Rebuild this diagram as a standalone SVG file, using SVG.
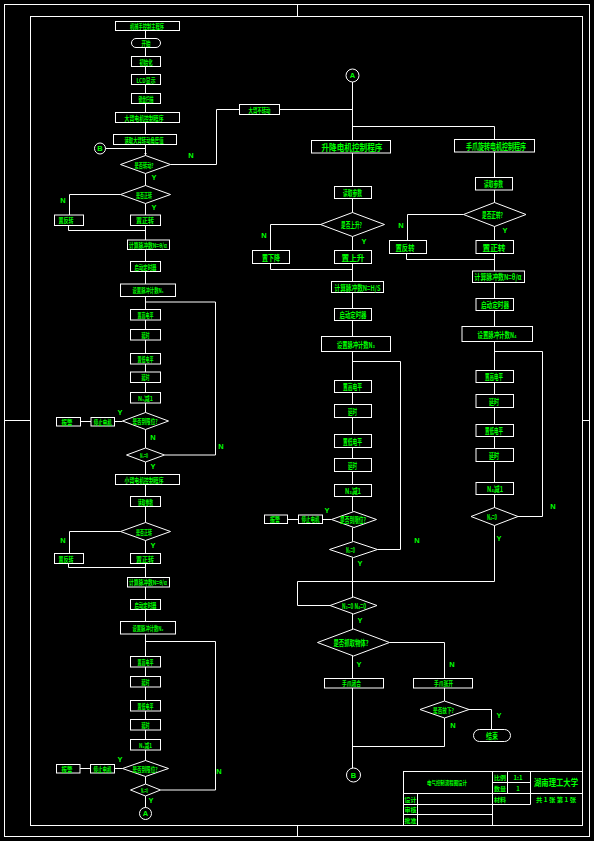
<svg xmlns="http://www.w3.org/2000/svg" width="594" height="841" viewBox="0 0 594 841">
<style>
.bg{fill:#000}
.f{fill:none;stroke:#fff;stroke-width:1}
.b{fill:none;stroke:#fff;stroke-width:1}
.c{fill:none;stroke:#fff;stroke-width:1}
text{font-family:"Noto Sans CJK SC","Liberation Sans",sans-serif;fill:#00ff00;text-anchor:middle;dominant-baseline:central;font-weight:bold}
.t{font-size:6.5px}
.m{font-size:8px}
.h{font-size:9.5px}
.yn{font-family:"Liberation Sans",sans-serif;font-size:7.5px;font-weight:bold}
.tb{font-size:6px}
</style>
<defs>
<marker id="a" markerWidth="3" markerHeight="3" refX="3" refY="1.5" orient="auto" markerUnits="userSpaceOnUse"><path d="M0,0L3,1.5L0,3z" fill="#fff"/></marker>
</defs>
<rect class="bg" x="0" y="0" width="594" height="841"/>
<g id="frame">
<rect class="f" x="4.5" y="4.5" width="585" height="832"/>
<rect class="f" x="30.5" y="16.5" width="552" height="809"/>
<path class="f" d="M4.5,420.5H30.5M582.5,420.5H589.5M297.5,4.5V16.5M297.5,825.5V836.5"/>
</g>
<g id="connectors">
<path class="c" d="M145.5,30.5V38M145.5,47V56.5M145.5,66.5V74.5M145.5,84.5V93.5M145.5,103.5V112.5M145.5,122.5V134.5M145.5,144.5V155.5" marker-end="url(#a)"/>
<path class="c" d="M105.5,148.5H145.5"/>
<path class="c" d="M170.5,164.5H216.5V109.5H239.5M279.5,109.5H352.5"/>
<path class="c" d="M145.5,173.5V185.5"/>
<path class="c" d="M120.5,194.5H69.5V215"/>
<path class="c" d="M145.5,203.5V215"/>
<path class="c" d="M68.5,225.5V230.5H145.5"/>
<path class="c" d="M145.5,225.5V240M145.5,249.5V261.5M145.5,271.5V284M145.5,296.5V309.5M145.5,320V329.5M145.5,340V353.5M145.5,364V372M145.5,382.5V392.5M145.5,403V412.5M145.5,429.5V448"/>
<path class="c" d="M145.5,302H215.5V455H164.5"/>
<path class="c" d="M122.5,421.5H114.5M91,421.5H80.5"/>
<path class="c" d="M145.5,462V474.5M145.5,484.5V496.5M145.5,506.5V522.5M145.5,540.5V553.5"/>
<path class="c" d="M120.5,531.5H69.5V553.5"/>
<path class="c" d="M68.5,563.5V567.5H145.5"/>
<path class="c" d="M145.5,563.5V577.5M145.5,587V599.5M145.5,609.5V621.5M145.5,634V656.5M145.5,667V676.5M145.5,687V700.5M145.5,711V719.5M145.5,730V739.5M145.5,750V760.5M145.5,776.5V784M145.5,796V807.5"/>
<path class="c" d="M145.5,641.5H215.5V790H160.5"/>
<path class="c" d="M122.5,768.5H114.5M90,768.5H80"/>
<path class="c" d="M352.5,82V140.5M352.5,153V186M352.5,198.5V212.5M352.5,236.5V250.5M352.5,263.5V281.5M352.5,292.5V308.5M352.5,320.5V336.5M352.5,351.5V380.5M352.5,392.5V404.5M352.5,417.5V434.5M352.5,447.5V458.5M352.5,471.5V484.5M352.5,496.5V511.5M352.5,527.5V541.5M352.5,557.5V597M352.5,614V629M352.5,656V678.5M352.5,688V768"/>
<path class="c" d="M352.5,126.5H494.5V139.5"/>
<path class="c" d="M321,224.5H270.5V250.5"/>
<path class="c" d="M270.5,263.5V269.5H352.5"/>
<path class="c" d="M352.5,361.5H400.5V549.5H377.5"/>
<path class="c" d="M331.5,519.5H322.5M298.5,519.5H287.5"/>
<path class="c" d="M330,605.5H297.5V581.5H352.5"/>
<path class="c" d="M494.5,525.5V581.5H352.5"/>
<path class="c" d="M389.5,642.5H444.5V678.5"/>
<path class="c" d="M444.5,688V701M469,709.5H491.5V729.5"/>
<path class="c" d="M444.5,718V746.5H352.5"/>
<path class="c" d="M494.5,152V177.5M494.5,190V202.5M494.5,226.5V240.5M494.5,253.5V271M494.5,282.5V298.5M494.5,310.5V326.5M494.5,341.5V370.5M494.5,382.5V394.5M494.5,407.5V424.5M494.5,436.5V448.5M494.5,461.5V482.5M494.5,494.5V507.5"/>
<path class="c" d="M463.5,214.5H407.5V240.5"/>
<path class="c" d="M406.5,253.5V259.5H494.5"/>
<path class="c" d="M494.5,351.5H542.5V516.5H518"/>
</g>
<g id="L1"><rect class="b" x="115.5" y="21.5" width="64" height="9"/><text class="t" x="147" y="26" textLength="34" lengthAdjust="spacingAndGlyphs">机械手控制主程序</text></g>
<g id="L2"><rect class="b" x="131.5" y="38.5" width="29" height="9" rx="4.5"/><text class="t" x="146" y="43" textLength="9" lengthAdjust="spacingAndGlyphs">开始</text></g>
<g id="L3"><rect class="b" x="131.5" y="56.5" width="29" height="10"/><text class="t" x="146" y="61.5" textLength="13" lengthAdjust="spacingAndGlyphs">初始化</text></g>
<g id="L4"><rect class="b" x="131.5" y="74.5" width="29" height="10"/><text class="t" x="146" y="79.5" textLength="19" lengthAdjust="spacingAndGlyphs">LCD显示</text></g>
<g id="L5"><rect class="b" x="131.5" y="93.5" width="29" height="10"/><text class="t" x="146" y="98.5" textLength="15" lengthAdjust="spacingAndGlyphs">键盘扫描</text></g>
<g id="L6"><rect class="b" x="115.5" y="112.5" width="64" height="10"/><text class="t" x="144" y="117.5" textLength="39" lengthAdjust="spacingAndGlyphs">大臂电机控制程序</text></g>
<g id="L7"><rect class="b" x="113.5" y="134.5" width="63" height="10"/><text class="t" x="144" y="139.5" textLength="39" lengthAdjust="spacingAndGlyphs">读取大臂转动角度值</text></g>
<g id="LB"><circle class="b" cx="100" cy="148.5" r="5.5"/><text class="yn" x="100" y="148.5">B</text></g>
<g id="LD1"><polygon class="b" points="145.5,155.5 170.5,164.5 145.5,173.5 120.5,164.5"/><text class="t" x="144" y="164.5" textLength="19" lengthAdjust="spacingAndGlyphs">是否转动?</text><text class="yn" x="191" y="155">N</text><text class="yn" x="154" y="177.5">Y</text></g>
<g id="L8"><rect class="b" x="239.5" y="104.5" width="40" height="10"/><text class="t" x="259.5" y="109.5" textLength="22" lengthAdjust="spacingAndGlyphs">大臂不转动</text></g>
<g id="LD2"><polygon class="b" points="145.5,185.5 170.5,194.5 145.5,203.5 120.5,194.5"/><text class="t" x="144" y="194.5" textLength="16" lengthAdjust="spacingAndGlyphs">是否正转</text><text class="yn" x="63" y="200">N</text><text class="yn" x="154" y="207">Y</text></g>
<g id="L9"><rect class="b" x="54.5" y="215" width="29" height="10.5"/><text class="t" x="66" y="220.3" textLength="15" lengthAdjust="spacingAndGlyphs">置反转</text></g>
<g id="L10"><rect class="b" x="130.5" y="215" width="30" height="10.5"/><text class="t" x="145" y="220.3" textLength="18" lengthAdjust="spacingAndGlyphs">置正转</text></g>
<g id="L11"><rect class="b" x="127.5" y="240" width="42" height="9.5"/><text class="t" x="148" y="244.8" textLength="38" lengthAdjust="spacingAndGlyphs">计算脉冲数N=θ/α</text></g>
<g id="L12"><rect class="b" x="130.5" y="261.5" width="30" height="10"/><text class="t" x="145.5" y="266.5" textLength="22" lengthAdjust="spacingAndGlyphs">启动定时器</text></g>
<g id="L13"><rect class="b" x="120.5" y="284" width="55" height="12.5"/><text class="t" x="148" y="290.3" textLength="31" lengthAdjust="spacingAndGlyphs">设置脉冲计数N₁</text></g>
<g id="L14"><rect class="b" x="130.5" y="309.5" width="30" height="10.5"/><text class="t" x="145.5" y="314.8" textLength="16" lengthAdjust="spacingAndGlyphs">置高电平</text></g>
<g id="L15"><rect class="b" x="130.5" y="329.5" width="30" height="10.5"/><text class="t" x="145.5" y="334.8" textLength="8" lengthAdjust="spacingAndGlyphs">延时</text></g>
<g id="L16"><rect class="b" x="130.5" y="353.5" width="30" height="10.5"/><text class="t" x="145.5" y="358.8" textLength="16" lengthAdjust="spacingAndGlyphs">置低电平</text></g>
<g id="L17"><rect class="b" x="130.5" y="372" width="30" height="10.5"/><text class="t" x="145.5" y="377.3" textLength="8" lengthAdjust="spacingAndGlyphs">延时</text></g>
<g id="L18"><rect class="b" x="130.5" y="392.5" width="30" height="10.5"/><text class="t" x="145.5" y="397.8" textLength="15" lengthAdjust="spacingAndGlyphs">N₁减1</text></g>
<g id="LD3"><polygon class="b" points="145.5,412.5 168.5,421 145.5,429.5 122.5,421"/><text class="t" x="145" y="421" textLength="25" lengthAdjust="spacingAndGlyphs">是否到限位?</text><text class="yn" x="120" y="412">Y</text><text class="yn" x="153" y="437">N</text></g>
<g id="L19"><rect class="b" x="91" y="417.5" width="23.5" height="8.5"/><text class="t" x="102.8" y="421.8" textLength="18" lengthAdjust="spacingAndGlyphs">停止电机</text></g>
<g id="L20"><rect class="b" x="56.5" y="417.5" width="24" height="8.5"/><text class="t" x="67" y="421.8" textLength="11" lengthAdjust="spacingAndGlyphs">报警</text></g>
<g id="LD4"><polygon class="b" points="145.5,448 164.5,455 145.5,462 126.5,455"/><text class="t" x="144" y="455" textLength="8" lengthAdjust="spacingAndGlyphs">N₁=0</text><text class="yn" x="221" y="446">N</text><text class="yn" x="153" y="466.5">Y</text></g>
<g id="L21"><rect class="b" x="115.5" y="474.5" width="64" height="10"/><text class="t" x="144" y="479.5" textLength="39" lengthAdjust="spacingAndGlyphs">小臂电机控制程序</text></g>
<g id="L22"><rect class="b" x="130.5" y="496.5" width="30" height="10"/><text class="t" x="145.5" y="501.5" textLength="15" lengthAdjust="spacingAndGlyphs">读取参数</text></g>
<g id="LD5"><polygon class="b" points="145.5,522.5 170.5,531.5 145.5,540.5 120.5,531.5"/><text class="t" x="144" y="531.5" textLength="16" lengthAdjust="spacingAndGlyphs">是否正转</text><text class="yn" x="63" y="540">N</text><text class="yn" x="153" y="545">Y</text></g>
<g id="L23"><rect class="b" x="54.5" y="553.5" width="29" height="10"/><text class="t" x="66" y="558.5" textLength="15" lengthAdjust="spacingAndGlyphs">置反转</text></g>
<g id="L24"><rect class="b" x="130.5" y="553.5" width="30" height="10"/><text class="t" x="145" y="558.5" textLength="18" lengthAdjust="spacingAndGlyphs">置正转</text></g>
<g id="L25"><rect class="b" x="127.5" y="577.5" width="42" height="9.5"/><text class="t" x="148" y="582.3" textLength="38" lengthAdjust="spacingAndGlyphs">计算脉冲数N=θ/α</text></g>
<g id="L26"><rect class="b" x="130.5" y="599.5" width="30" height="10"/><text class="t" x="145.5" y="604.5" textLength="22" lengthAdjust="spacingAndGlyphs">启动定时器</text></g>
<g id="L27"><rect class="b" x="120.5" y="621.5" width="55" height="12.5"/><text class="t" x="148" y="627.8" textLength="31" lengthAdjust="spacingAndGlyphs">设置脉冲计数N₂</text></g>
<g id="L28"><rect class="b" x="130.5" y="656.5" width="30" height="10.5"/><text class="t" x="145.5" y="661.8" textLength="16" lengthAdjust="spacingAndGlyphs">置高电平</text></g>
<g id="L29"><rect class="b" x="130.5" y="676.5" width="30" height="10.5"/><text class="t" x="145.5" y="681.8" textLength="8" lengthAdjust="spacingAndGlyphs">延时</text></g>
<g id="L30"><rect class="b" x="130.5" y="700.5" width="30" height="10.5"/><text class="t" x="145.5" y="705.8" textLength="16" lengthAdjust="spacingAndGlyphs">置低电平</text></g>
<g id="L31"><rect class="b" x="130.5" y="719.5" width="30" height="10.5"/><text class="t" x="145.5" y="724.8" textLength="8" lengthAdjust="spacingAndGlyphs">延时</text></g>
<g id="L32"><rect class="b" x="130.5" y="739.5" width="30" height="10.5"/><text class="t" x="145.5" y="744.8" textLength="13" lengthAdjust="spacingAndGlyphs">N₂减1</text></g>
<g id="LD6"><polygon class="b" points="145.5,760.5 168.5,768.5 145.5,776.5 122.5,768.5"/><text class="t" x="145" y="768.5" textLength="25" lengthAdjust="spacingAndGlyphs">是否到限位?</text><text class="yn" x="120" y="759">Y</text></g>
<g id="L33"><rect class="b" x="90.5" y="764.5" width="24" height="8.5"/><text class="t" x="102.5" y="768.8" textLength="18" lengthAdjust="spacingAndGlyphs">停止电机</text></g>
<g id="L34"><rect class="b" x="56.5" y="764.5" width="23.5" height="8.5"/><text class="t" x="67" y="768.8" textLength="11" lengthAdjust="spacingAndGlyphs">报警</text></g>
<g id="LD7"><polygon class="b" points="145.5,784 160.5,790 145.5,796 130.5,790"/><text class="t" x="144.5" y="790" textLength="7" lengthAdjust="spacingAndGlyphs">N₂=0</text><text class="yn" x="219" y="771">N</text><text class="yn" x="151" y="800.5">Y</text></g>
<g id="LA"><circle class="b" cx="145.5" cy="813.5" r="6"/><text class="yn" x="145.5" y="813.5">A</text></g>
<g id="MA"><circle class="b" cx="352.5" cy="75.5" r="6.5"/><text class="yn" x="352.5" y="75.5">A</text></g>
<g id="M1"><rect class="b" x="311.5" y="140.5" width="79" height="12.5"/><text class="h" x="352" y="146.8" textLength="61" lengthAdjust="spacingAndGlyphs">升降电机控制程序</text></g>
<g id="M2"><rect class="b" x="334.5" y="186.5" width="37" height="12"/><text class="m" x="352.5" y="192.5" textLength="19" lengthAdjust="spacingAndGlyphs">读取参数</text></g>
<g id="MD1"><polygon class="b" points="352.5,212.5 384.5,224.5 352.5,236.5 320.5,224.5"/><text class="m" x="351.5" y="224.5" textLength="21" lengthAdjust="spacingAndGlyphs">是否上升?</text><text class="yn" x="264" y="235">N</text><text class="yn" x="364" y="241">Y</text></g>
<g id="M3"><rect class="b" x="252.5" y="250.5" width="37" height="13"/><text class="m" x="271" y="257" textLength="18" lengthAdjust="spacingAndGlyphs">置下降</text></g>
<g id="M4"><rect class="b" x="334.5" y="250.5" width="37" height="13"/><text class="m" x="353" y="257" textLength="23" lengthAdjust="spacingAndGlyphs">置上升</text></g>
<g id="M5"><rect class="b" x="331.5" y="281.5" width="52" height="11"/><text class="m" x="357.5" y="287" textLength="46" lengthAdjust="spacingAndGlyphs">计算脉冲数N=H/S</text></g>
<g id="M6"><rect class="b" x="334.5" y="308.5" width="37" height="12"/><text class="m" x="353" y="314.5" textLength="27" lengthAdjust="spacingAndGlyphs">启动定时器</text></g>
<g id="M7"><rect class="b" x="321.5" y="336.5" width="69" height="15"/><text class="m" x="356" y="344" textLength="38" lengthAdjust="spacingAndGlyphs">设置脉冲计数N₃</text></g>
<g id="M8"><rect class="b" x="334.5" y="380.5" width="37" height="12"/><text class="m" x="352.5" y="386.5" textLength="19" lengthAdjust="spacingAndGlyphs">置高电平</text></g>
<g id="M9"><rect class="b" x="334.5" y="404.5" width="37" height="13"/><text class="m" x="352.5" y="411" textLength="9" lengthAdjust="spacingAndGlyphs">延时</text></g>
<g id="M10"><rect class="b" x="334.5" y="434.5" width="37" height="13"/><text class="m" x="352.5" y="441" textLength="19" lengthAdjust="spacingAndGlyphs">置低电平</text></g>
<g id="M11"><rect class="b" x="334.5" y="458.5" width="37" height="13"/><text class="m" x="352.5" y="465" textLength="9" lengthAdjust="spacingAndGlyphs">延时</text></g>
<g id="M12"><rect class="b" x="334.5" y="484.5" width="37" height="12"/><text class="m" x="353" y="490.5" textLength="16" lengthAdjust="spacingAndGlyphs">N₃减1</text></g>
<g id="MD2"><polygon class="b" points="354,511.5 376.5,519.5 354,527.5 331.5,519.5"/><text class="m" x="353" y="519.5" textLength="26" lengthAdjust="spacingAndGlyphs">是否到限位?</text><text class="yn" x="327" y="510">Y</text></g>
<g id="M13"><rect class="b" x="298.5" y="515" width="24" height="8.5"/><text class="t" x="310.5" y="519.3" textLength="18" lengthAdjust="spacingAndGlyphs">停止电机</text></g>
<g id="M14"><rect class="b" x="264.5" y="515" width="23" height="8.5"/><text class="t" x="275" y="519.3" textLength="10" lengthAdjust="spacingAndGlyphs">报警</text></g>
<g id="MD3"><polygon class="b" points="353.5,541.5 377.5,549.5 353.5,557.5 329.5,549.5"/><text class="m" x="350.5" y="549.5" textLength="9" lengthAdjust="spacingAndGlyphs">N₃=0</text><text class="yn" x="417" y="540">N</text><text class="yn" x="360" y="563">Y</text></g>
<g id="MD4"><polygon class="b" points="353.5,597 377,605.5 353.5,614 330,605.5"/><text class="m" x="354" y="605.5" textLength="24" lengthAdjust="spacingAndGlyphs">N₃=0 N₄=0</text><text class="yn" x="360" y="620">Y</text></g>
<g id="MD5"><polygon class="b" points="353.5,629 389.5,642.5 353.5,656 317.5,642.5"/><text class="m" x="351" y="642.5" textLength="35" lengthAdjust="spacingAndGlyphs">是否抓取物体?</text><text class="yn" x="359" y="664">Y</text><text class="yn" x="452" y="664">N</text></g>
<g id="M15"><rect class="b" x="324.5" y="678.5" width="59" height="9.5"/><text class="t" x="351.5" y="683.3" textLength="19" lengthAdjust="spacingAndGlyphs">手爪闭合</text></g>
<g id="M16"><rect class="b" x="413.5" y="678.5" width="59" height="9.5"/><text class="t" x="443.5" y="683.3" textLength="19" lengthAdjust="spacingAndGlyphs">手爪张开</text></g>
<g id="MD6"><polygon class="b" points="444.5,701 469,709.5 444.5,718 420,709.5"/><text class="t" x="443.5" y="709.5" textLength="21" lengthAdjust="spacingAndGlyphs">是否放下?</text><text class="yn" x="499" y="715">Y</text><text class="yn" x="453" y="725">N</text></g>
<g id="M17"><rect class="b" x="473.5" y="729.5" width="37" height="12" rx="6"/><text class="m" x="492" y="735.5" textLength="12" lengthAdjust="spacingAndGlyphs">结束</text></g>
<g id="MB"><circle class="b" cx="353.5" cy="775" r="7"/><text class="yn" x="353.5" y="775">B</text></g>
<g id="R1"><rect class="b" x="454.5" y="139.5" width="80" height="12.5"/><text class="h" x="496" y="145.8" textLength="60" lengthAdjust="spacingAndGlyphs">手爪旋转电机控制程序</text></g>
<g id="R2"><rect class="b" x="475.5" y="177.5" width="37" height="12.5"/><text class="m" x="493.5" y="183.8" textLength="19" lengthAdjust="spacingAndGlyphs">读取参数</text></g>
<g id="RD1"><polygon class="b" points="494.5,202.5 526,214.5 494.5,226.5 463.5,214.5"/><text class="m" x="492.5" y="214.5" textLength="21" lengthAdjust="spacingAndGlyphs">是否正转?</text><text class="yn" x="401" y="225">N</text><text class="yn" x="505" y="230">Y</text></g>
<g id="R3"><rect class="b" x="389.5" y="240.5" width="37" height="13"/><text class="m" x="405" y="247" textLength="19" lengthAdjust="spacingAndGlyphs">置反转</text></g>
<g id="R4"><rect class="b" x="476" y="240.5" width="37.5" height="13"/><text class="m" x="494" y="247" textLength="23" lengthAdjust="spacingAndGlyphs">置正转</text></g>
<g id="R5"><rect class="b" x="472.5" y="271" width="52" height="11.5"/><text class="m" x="498" y="276.8" textLength="47" lengthAdjust="spacingAndGlyphs">计算脉冲数N=θ/α</text></g>
<g id="R6"><rect class="b" x="476" y="298.5" width="37.5" height="12"/><text class="m" x="495" y="304.5" textLength="28" lengthAdjust="spacingAndGlyphs">启动定时器</text></g>
<g id="R7"><rect class="b" x="462" y="326.5" width="70.5" height="15"/><text class="m" x="497" y="334" textLength="39" lengthAdjust="spacingAndGlyphs">设置脉冲计数N₄</text></g>
<g id="R8"><rect class="b" x="476" y="370.5" width="37.5" height="12"/><text class="m" x="494" y="376.5" textLength="18" lengthAdjust="spacingAndGlyphs">置高电平</text></g>
<g id="R9"><rect class="b" x="476" y="394.5" width="37.5" height="13"/><text class="m" x="494" y="401" textLength="10" lengthAdjust="spacingAndGlyphs">延时</text></g>
<g id="R10"><rect class="b" x="476" y="424.5" width="37.5" height="12"/><text class="m" x="494" y="430.5" textLength="18" lengthAdjust="spacingAndGlyphs">置低电平</text></g>
<g id="R11"><rect class="b" x="476" y="448.5" width="37.5" height="13"/><text class="m" x="494" y="455" textLength="10" lengthAdjust="spacingAndGlyphs">延时</text></g>
<g id="R12"><rect class="b" x="476" y="482.5" width="37.5" height="12"/><text class="m" x="495" y="488.5" textLength="16" lengthAdjust="spacingAndGlyphs">N₄减1</text></g>
<g id="RD2"><polygon class="b" points="494.5,507.5 518,516.5 494.5,525.5 471,516.5"/><text class="m" x="492" y="516.5" textLength="10" lengthAdjust="spacingAndGlyphs">N₄=0</text><text class="yn" x="553" y="506">N</text><text class="yn" x="499" y="538">Y</text></g>
<g id="titleblock">
<rect class="f" x="403.5" y="771.5" width="179" height="54"/>
<path class="f" d="M492.5,771.5V825.5M507.5,771.5V793.5M530.5,771.5V804.5M492.5,782.5H530.5M403.5,793.5H582.5M403.5,804.5H492.5M403.5,814.5H492.5M417.5,793.5V825.5M492.5,804.5H530.5"/>
<text class="tb" x="447" y="782" textLength="40" lengthAdjust="spacingAndGlyphs">电气控制流程图设计</text>
<text class="tb" x="500" y="777">比例</text>
<text class="tb" x="518" y="777">1:1</text>
<text class="tb" x="500" y="788">数量</text>
<text class="tb" x="518" y="788">1</text>
<text class="tb" x="500" y="799">材料</text>
<text class="h" x="556" y="782" textLength="44" lengthAdjust="spacingAndGlyphs">湖南理工大学</text>
<text class="tb" x="556" y="799" textLength="40" lengthAdjust="spacingAndGlyphs">共 1 张  第 1 张</text>
<text class="tb" x="410.5" y="799">设计</text>
<text class="tb" x="410.5" y="809.5">审核</text>
<text class="tb" x="410.5" y="820">批准</text>
</g>
</svg>
